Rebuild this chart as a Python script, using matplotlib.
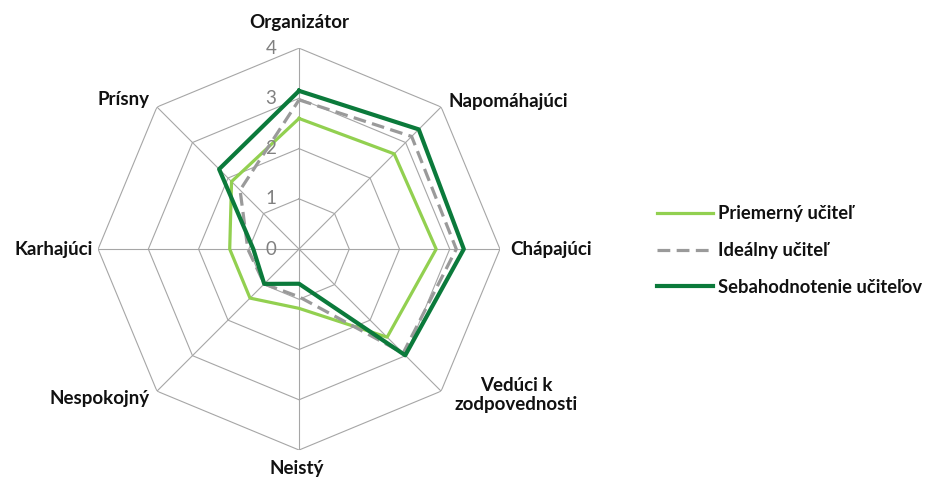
import numpy as np
import matplotlib
matplotlib.use("Agg")
import matplotlib.pyplot as plt
from matplotlib.lines import Line2D

plt.rcParams['font.family'] = ['Lato', 'DejaVu Sans']

categories = ['Organizátor', 'Napomáhajúci', 'Chápajúci', 'Vedúci k\nzodpovednosti',
              'Neistý', 'Nespokojný', 'Karhajúci', 'Prísny']
priemerny = [2.6, 2.68, 2.73, 2.48, 1.18, 1.38, 1.38, 1.9]
idealny = [2.97, 3.17, 3.13, 2.93, 0.95, 0.98, 1.02, 1.66]
sebahodnotenie = [3.15, 3.37, 3.28, 2.99, 0.69, 0.98, 0.91, 2.25]
series_names = ['Priemerný učiteľ', 'Ideálny učiteľ', 'Sebahodnotenie učiteľov']
ticks = [0, 1, 2, 3, 4]

# label offsets from the outer vertex (pixels) and alignment
label_pos = [((0, 26), 'center'), ((7, 5), 'left'), ((10, 0), 'left'), ((75, -4), 'center'),
             ((-2, -18), 'center'), ((-7, -7), 'right'), ((-5, 0), 'right'), ((-7, 7), 'right')]

n = len(categories)
theta = np.arange(n) * 2 * np.pi / n
theta_c = np.append(theta, theta[0])

def closed(v):
    return np.append(v, v[0])

fig = plt.figure(figsize=(9.31, 4.79), dpi=100)
ax = fig.add_axes([0.1053, 0.0605, 0.4318, 0.839], projection='polar')
ax.set_theta_zero_location('N')
ax.set_theta_direction(-1)
ax.set_ylim(0, 4)
ax.grid(False)
ax.spines['polar'].set_visible(False)
ax.set_xticks([])
ax.set_yticks([])
ax.patch.set_visible(False)

grid_col = '#A6A6A6'
for t in ticks[1:]:
    ax.plot(theta_c, [t] * (n + 1), color=grid_col, lw=0.8, zorder=1)
for th in theta:
    ax.plot([th, th], [0, 4], color=grid_col, lw=0.8, zorder=1)

ax.plot(theta_c, closed(priemerny), color='#92D050', lw=2.3, zorder=3)
ax.plot(theta_c, closed(idealny), color='#9A9A9A', lw=2.3, ls=(0, (4, 2)), zorder=4)
ax.plot(theta_c, closed(sebahodnotenie), color='#0B7A3B', lw=3.0, zorder=5)

for t in ticks:
    ax.annotate(str(t), xy=(0, t), xytext=(-28, 0), textcoords='offset pixels',
                ha='center', va='center', fontsize=13.5, color='#808080', zorder=6)

for th, lab, (off, ha) in zip(theta, categories, label_pos):
    ax.annotate(lab, xy=(th, 4), xytext=off, textcoords='offset pixels',
                ha=ha, va='center', multialignment='center', linespacing=1.15,
                fontsize=13.5, fontweight='bold', color='#111111', annotation_clip=False)

handles = [Line2D([], [], color='#92D050', lw=2.3),
           Line2D([], [], color='#9A9A9A', lw=2.3, ls=(0, (4, 2))),
           Line2D([], [], color='#0B7A3B', lw=3.0)]
leg = fig.legend(handles, series_names, loc='center left', bbox_to_anchor=(0.688, 0.477),
                 frameon=False, handlelength=3.05, handletextpad=0.27, labelspacing=1.08,
                 prop={'size': 13.2, 'weight': 'bold'})
for txt in leg.get_texts():
    txt.set_color('#111111')

fig.savefig('out.png', dpi=100)
